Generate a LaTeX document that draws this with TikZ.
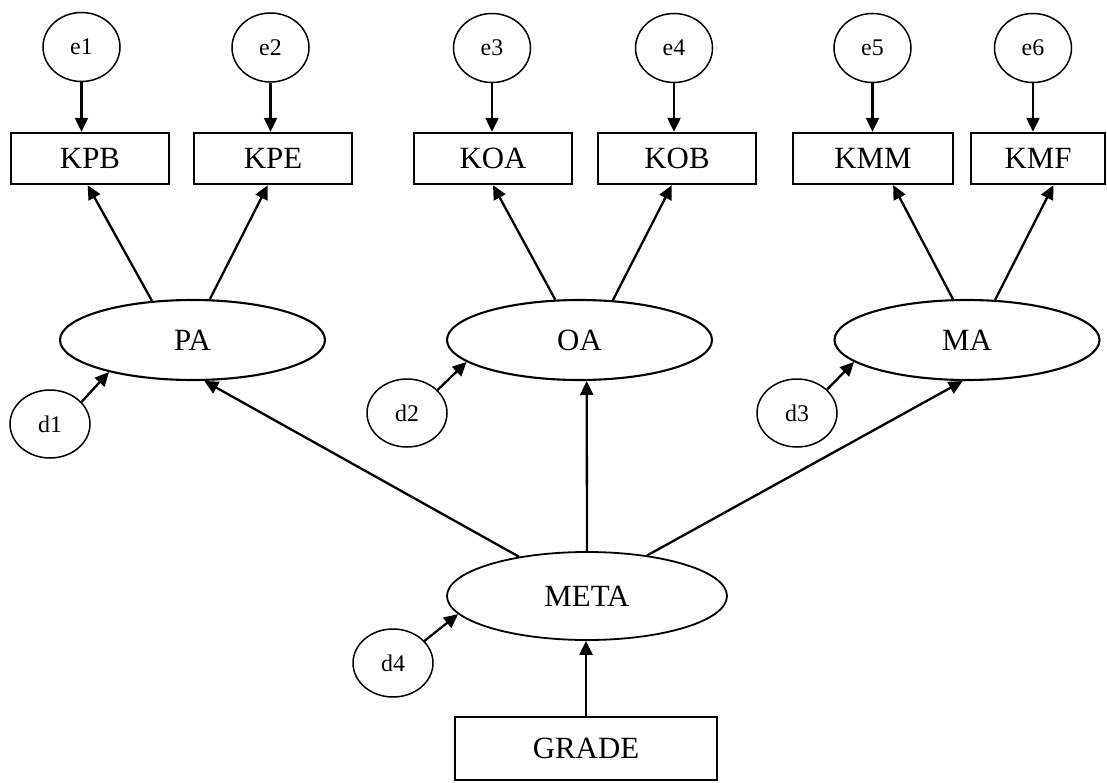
\documentclass[tikz,border=0pt]{standalone}
\usepackage{fontspec}
\setmainfont{Liberation Serif}
\usetikzlibrary{shapes.geometric,arrows.meta}
\begin{document}
\begin{tikzpicture}[x=1bp,y=-1bp,
  obs/.style={draw, line width=2.4bp, rectangle, inner sep=0pt,
    minimum width=158bp, minimum height=51bp, font=\fontsize{31}{36}\selectfont},
  lat/.style={draw, line width=2.1bp, ellipse, inner sep=0pt,
    minimum width=265bp, minimum height=80bp, font=\fontsize{31}{36}\selectfont},
  err/.style={draw, line width=1.5bp, ellipse, inner sep=0pt,
    minimum width=77bp, minimum height=69bp, font=\fontsize{24}{28}\selectfont},
  dist/.style={err, minimum width=80bp, minimum height=68bp},
  link/.style={-{Triangle[length=14bp,width=13bp]}, line width=2.3bp}
]
\useasboundingbox (0,0) rectangle (1107,783);

% measurement errors
\node[err] (e1) at (81.5,47) {e1};
\node[err] (e2) at (270.5,47.5) {e2};
\node[err] (e3) at (492,48) {e3};
\node[err] (e4) at (674,48) {e4};
\node[err] (e5) at (872.5,48) {e5};
\node[err] (e6) at (1033,48) {e6};

% observed indicators
\node[obs] (KPB) at (90,158.5) {KPB};
\node[obs] (KPE) at (273,158.5) {KPE};
\node[obs] (KOA) at (493,158.5) {KOA};
\node[obs] (KOB) at (677,158.5) {KOB};
\node[obs, minimum width=160bp] (KMM) at (873,158.5) {KMM};
\node[obs, minimum width=134bp] (KMF) at (1038,158.5) {KMF};

% first-order factors
\node[lat] (PA) at (192.5,340) {PA};
\node[lat] (OA) at (579.5,340) {OA};
\node[lat] (MA) at (967,340) {MA};

% second-order factor and its predictor
\node[lat, line width=1.8bp, minimum width=280bp, minimum height=88bp] (META) at (587,596) {META};
\node[obs, minimum width=262bp, minimum height=63bp] (GRADE) at (586,748.5) {GRADE};

% disturbances
\node[dist] (d1) at (50,424) {d1};
\node[dist] (d2) at (407,413) {d2};
\node[dist] (d3) at (797,413) {d3};
\node[dist] (d4) at (393,663) {d4};

% error paths
\foreach \e/\k in {e1/KPB, e2/KPE, e3/KOA, e4/KOB, e5/KMM, e6/KMF}
  \draw[link] (\e.south) -- (\e.south |- \k.north);

% loadings
\draw[link] (PA.136) -- (KPB.265.5);
\draw[link] (PA.67) -- (KPE.259);
\draw[link] (OA.121) -- (KOA.south);
\draw[link] (OA.50) -- (KOB.259);
\draw[link] (MA.109) -- (KMM.307);
\draw[link] (MA.55) -- (KMF.300);

% structural paths
\draw[link] (META.150) -- (PA.286);
\draw[link] (META.north) -- (OA.280);
\draw[link] (META.34) -- (MA.264);
\draw[link] (GRADE.north) -- (GRADE.north |- META.south);

% disturbance paths
\draw[link] (d1.35) -- (PA.201);
\draw[link] (d2.37) -- (OA.191);
\draw[link] (d3.38) -- (MA.191);
\draw[link] (d4.35) -- (META.188);
\end{tikzpicture}
\end{document}
